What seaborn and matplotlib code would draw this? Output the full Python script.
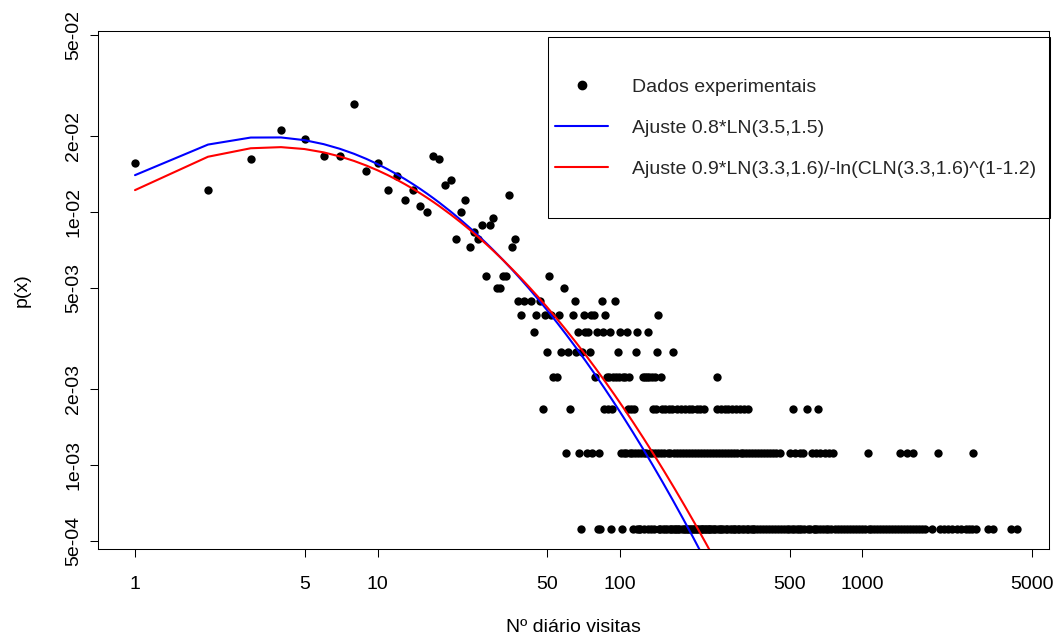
import math
import numpy as np
import pandas as pd
import matplotlib
matplotlib.use("Agg")
import matplotlib.pyplot as plt
import seaborn as sns
from matplotlib.lines import Line2D
from matplotlib.patches import Rectangle
from matplotlib.ticker import NullLocator

# ---------------------------------------------------------------------------
# Observed data: number of days with a given daily visit count
# ---------------------------------------------------------------------------
n_days = 1795

# small visit counts (1..37) and how many days each occurred
x_low = list(range(1, 38))
days_low = [28, 22, 29, 38, 35, 30, 30, 48, 26, 28,
            22, 25, 20, 22, 19, 18, 30, 29, 23, 24,
            14, 18, 20, 13, 15, 14, 16, 10, 16, 17,
            9, 9, 10, 10, 21, 13, 14]

# larger visit counts, grouped by number of days observed
x_days10 = [51]
x_days9 = [59]
x_days8 = [38, 40, 43, 47, 65, 84, 95]
x_days7 = [39, 45, 49, 52, 56, 64, 71, 76, 78, 87, 144]
x_days6 = [44, 67, 72, 74, 80, 85, 91, 100, 107, 118, 131]
x_days5 = [50, 57, 61, 66, 70, 75, 98, 116, 142, 166]
x_days4 = [53, 55, 79, 88, 90, 94, 96, 99, 103, 105, 109, 124, 127, 129,
           132, 135, 139, 147, 252]
x_days3 = [48, 62, 86, 89, 93, 108, 111, 114, 137, 141, 149, 153, 159, 164,
           171, 178, 185, 192, 199, 207, 214, 222, 250, 260, 270, 280, 291,
           301, 313, 324, 336, 519, 589, 658]
x_days2 = [60, 68, 73, 77, 82, 101, 104, 106, 110, 112, 115, 119, 122, 125,
           128, 133, 136, 140, 143, 148, 152, 157, 161, 167, 172, 177, 182,
           187, 193, 198, 204, 210, 216, 223, 229, 235, 242, 249, 256, 264,
           271, 279, 287, 296, 304, 314, 322, 332, 341, 351, 361, 372, 382,
           394, 405, 417, 429, 441, 457, 502, 527, 552, 570, 617, 644, 671,
           698, 728, 755, 1051, 1433, 1520, 1620, 2055, 2864]
x_days1 = [69, 81, 83, 92, 102, 113, 117, 120, 121, 126, 130, 134, 138, 145,
           146, 150, 154, 156, 160, 163, 165, 168, 170, 173, 175, 180, 183,
           186, 189, 191, 194, 196, 200, 202, 205, 208, 211, 215, 218, 220,
           224, 226, 230, 233, 236, 239, 243, 246, 253, 258, 262, 266, 274,
           277, 283, 289, 294, 299, 306, 311, 318, 325, 334, 338, 346, 355,
           358, 366, 377, 388, 399, 411, 423, 435, 447, 463, 474, 487, 498,
           511, 523, 535, 546, 560, 575, 595, 606, 628, 637, 652, 667, 686,
           706, 720, 740, 769, 791, 814, 837, 862, 886, 912, 938, 965, 993,
           1022, 1064, 1082, 1113, 1145, 1178, 1212, 1247, 1283, 1320, 1358,
           1397, 1445, 1479, 1530, 1565, 1611, 1657, 1705, 1754, 1805, 1936,
           2083, 2170, 2260, 2350, 2450, 2550, 2660, 2760, 2840, 2950, 3290,
           3450, 4100, 4340]

# fitted models (log-normal parameters as given in the legend)
ln1_scale, ln1_mu, ln1_sigma = 0.8, 3.5, 1.5
ln2_scale, ln2_mu, ln2_sigma, ln2_shape = 0.9, 3.3, 1.6, 1.2

x_ticks = [1, 5, 10, 50, 100, 500, 1000, 5000]
x_tick_labels = ["1", "5", "10", "50", "100", "500", "1000", "5000"]
y_ticks = [5e-4, 1e-3, 2e-3, 5e-3, 1e-2, 2e-2, 5e-2]
y_tick_labels = ["5e-04", "1e-03", "2e-03", "5e-03", "1e-02", "2e-02", "5e-02"]

legend_labels = ["Dados experimentais",
                 "Ajuste 0.8*LN(3.5,1.5)",
                 "Ajuste 0.9*LN(3.3,1.6)/-ln(CLN(3.3,1.6)^(1-1.2)"]

# ---------------------------------------------------------------------------
# Build the table of empirical probabilities
# ---------------------------------------------------------------------------
rows = list(zip(x_low, days_low))
for k, xs in [(10, x_days10), (9, x_days9), (8, x_days8), (7, x_days7),
              (6, x_days6), (5, x_days5), (4, x_days4), (3, x_days3),
              (2, x_days2), (1, x_days1)]:
    rows += [(x, k) for x in xs]
df = pd.DataFrame(rows, columns=["visitas", "dias"])
df["p"] = df["dias"] / n_days


def dlnorm(x, mu, sigma):
    return np.exp(-(np.log(x) - mu) ** 2 / (2 * sigma ** 2)) / (x * sigma * np.sqrt(2 * np.pi))


_erfc = np.vectorize(math.erfc)


def slnorm(x, mu, sigma):
    z = (np.log(x) - mu) / sigma
    return 0.5 * _erfc(z / math.sqrt(2))


x_fit = np.arange(1, 6001, dtype=float)
fit1 = ln1_scale * dlnorm(x_fit, ln1_mu, ln1_sigma)
fit2 = (ln2_scale * dlnorm(x_fit, ln2_mu, ln2_sigma)
        / (-np.log(slnorm(x_fit, ln2_mu, ln2_sigma))) ** (1 - ln2_shape))

# ---------------------------------------------------------------------------
# Plot
# ---------------------------------------------------------------------------
sns.set_style("ticks")
plt.rcParams["font.family"] = ["Liberation Sans", "DejaVu Sans"]
FS = 14

W, H = 1058, 639
fig = plt.figure(figsize=(W / 100, H / 100), dpi=100)
ax = fig.add_axes([98 / W, 90 / H, 951 / W, 518 / H])

sns.scatterplot(data=df, x="visitas", y="p", color="black", s=36,
                linewidth=0, ax=ax, zorder=2, legend=False)
sns.lineplot(x=x_fit, y=fit1, color="#0000FF", lw=1.5, ax=ax,
             estimator=None, sort=False, zorder=3)
sns.lineplot(x=x_fit, y=fit2, color="#FF0000", lw=1.5, ax=ax,
             estimator=None, sort=False, zorder=4)

ax.set_xscale("log")
ax.set_yscale("log")
ax.set_xlim(0.7037, 5876)
ax.set_ylim(4.656e-4, 0.05193)
ax.xaxis.set_minor_locator(NullLocator())
ax.yaxis.set_minor_locator(NullLocator())
ax.set_xticks(x_ticks)
ax.set_xticklabels(x_tick_labels)
ax.set_yticks(y_ticks)
ax.set_yticklabels(y_tick_labels, rotation=90, va="center")

ax.tick_params(direction="out", length=5.5, width=0.75, color="black",
               labelsize=FS, labelcolor="black")
ax.tick_params(axis="x", pad=14)
ax.tick_params(axis="y", pad=6)
for sp in ax.spines.values():
    sp.set_visible(True)
    sp.set_color("black")
    sp.set_linewidth(0.75)

ax.set_xlabel("Nº diário visitas", fontsize=FS, color="black")
ax.xaxis.label.set_va("center")
ax.xaxis.set_label_coords(0.5, (549 - 628) / 518)
ax.set_ylabel("p(x)", fontsize=FS, color="black")
ax.yaxis.label.set_va("center")
ax.yaxis.set_label_coords((22 - 98) / 951, 0.5)

handles = [Line2D([0], [0], marker="o", ls="none", color="black", markersize=6),
           Line2D([0], [0], color="#0000FF", lw=1.5),
           Line2D([0], [0], color="#FF0000", lw=1.5)]
ax.legend(handles, legend_labels, loc="center left",
          bbox_to_anchor=((555 - 98) / 951, (549 - 128) / 518),
          frameon=False, fontsize=FS, borderpad=0, borderaxespad=0,
          handlelength=2.73, handletextpad=1.23, labelspacing=1.2)
ax.add_patch(Rectangle(((548 - 98) / 951, (549 - 218) / 518),
                       (1050 - 548) / 951, (218 - 37) / 518,
                       transform=ax.transAxes, fill=False, lw=0.75,
                       ec="black", clip_on=False, zorder=5))

fig.savefig("out.png", dpi=100)
